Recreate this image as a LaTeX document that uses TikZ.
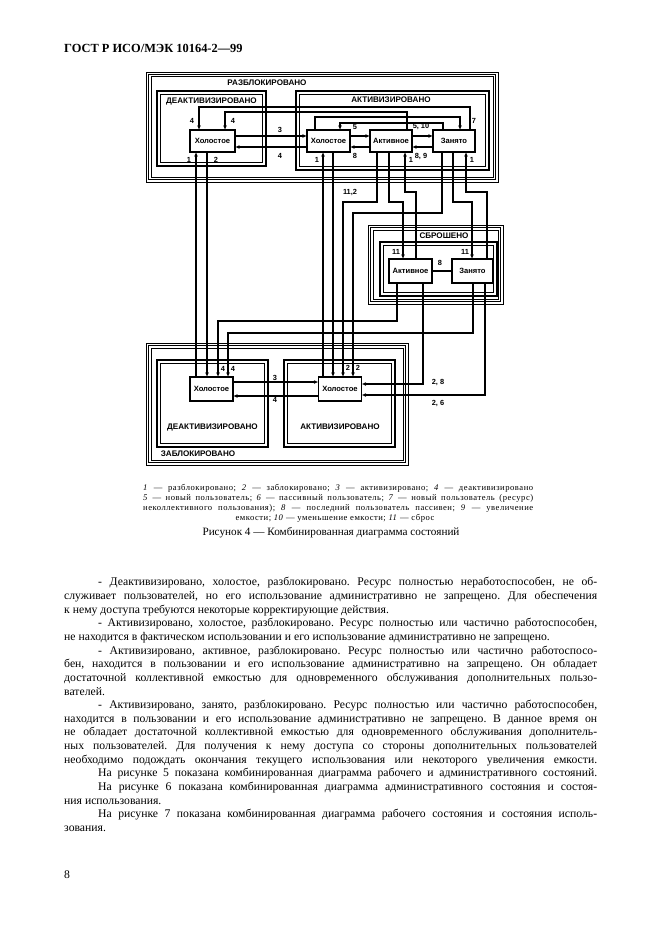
\documentclass[tikz,border=0pt]{standalone}
\usepackage{fontspec}
\setmainfont{Liberation Serif}
\setsansfont{Liberation Sans}
\newfontfamily\legfont[LetterSpace=6]{Liberation Serif}
\usetikzlibrary{arrows.meta}
\frenchspacing
\tikzset{
 st/.style={draw, line width=1.3pt, fill=white, inner sep=0pt, minimum height=22pt, font=\sffamily\bfseries\fontsize{7.6}{8}\selectfont},
 conn/.style={line width=1.7pt},
 arr/.style={conn, -{Stealth[length=4pt,width=3.6pt]}},
 lbl/.style={font=\sffamily\bfseries\fontsize{7.4}{8}\selectfont, inner sep=0pt},
 ttl/.style={font=\sffamily\bfseries\fontsize{8.1}{9}\selectfont, inner sep=0pt},
 bodyl/.style={anchor=base west, inner sep=0pt, font=\fontsize{11.7}{13.6}\selectfont\frenchspacing},
 legl/.style={anchor=base west, inner sep=0pt, font=\legfont\fontsize{8.6}{9.2}\selectfont\frenchspacing},
}
\newcommand{\trframe}[4]{%
  \draw[line width=0.6pt] (#1,#2) rectangle (#3,#4);
  \draw[line width=1.4pt] (#1+2.4,#2+2.4) rectangle (#3-2.4,#4-2.4);
  \draw[line width=0.6pt] (#1+4.8,#2+4.8) rectangle (#3-4.8,#4-4.8);}
\newcommand{\dbframe}[4]{%
  \draw[line width=1.4pt] (#1,#2) rectangle (#3,#4);
  \draw[line width=0.6pt] (#1+3.5,#2+3.5) rectangle (#3-3.5,#4-3.5);}
\begin{document}
\begin{tikzpicture}[x=1pt,y=-1pt]
\fill[white] (0,0) rectangle (661,936);
\useasboundingbox (0,0) rectangle (661,936);

% header
\node[anchor=base west, inner sep=0pt, font=\bfseries\fontsize{12.4}{14}\selectfont] (hdr) at (64,52.5) {ГОСТ Р ИСО/МЭК 10164-2—99};

% frames
\trframe{146}{72}{498}{182}
\node[ttl] (tunl) at (267,83) {РАЗБЛОКИРОВАНО};
\dbframe{157}{91}{266}{166}
\node[ttl] (tdeact1) at (211.5,101) {ДЕАКТИВИЗИРОВАНО};
\dbframe{296}{91}{489}{170}
\node[ttl] (tact1) at (391,100) {АКТИВИЗИРОВАНО};

\trframe{368}{225}{503}{304}
\dbframe{380}{242}{497}{296}
\node[ttl] (treset) at (444,236) {СБРОШЕНО};

\trframe{146}{343}{408}{465}
\node[ttl] (tlock) at (198,454) {ЗАБЛОКИРОВАНО};
\dbframe{157}{360}{268}{447}
\node[ttl] (tdeact2) at (212.5,427) {ДЕАКТИВИЗИРОВАНО};
\dbframe{284}{360}{395}{447}
\node[ttl] (tact2) at (340,427) {АКТИВИЗИРОВАНО};

% state nodes
\node[st, minimum width=45pt] (h1) at (212.5,141) {Холостое};
\node[st, minimum width=43pt] (h2) at (328.5,141) {Холостое};
\node[st, minimum width=42pt] (a1) at (391,141) {Активное};
\node[st, minimum width=42pt] (z1) at (454,141) {Занято};
\node[st, minimum width=43pt, minimum height=24pt] (a2) at (410.5,271) {Активное};
\node[st, minimum width=41pt, minimum height=24pt] (z2) at (472.5,271) {Занято};
\node[st, minimum width=43pt, minimum height=24pt] (h3) at (211.5,389) {Холостое};
\node[st, minimum width=43pt, minimum height=24pt] (h4) at (340,389) {Холостое};

% top horizontal transitions
\draw[arr] (h1.east |- 0,136) -- (h2.west |- 0,136);
\draw[arr] (h2.west |- 0,147) -- (h1.east |- 0,147);
\draw[arr] (h2.east |- 0,136) -- (a1.west |- 0,136);
\draw[arr] (a1.west |- 0,147) -- (h2.east |- 0,147);
\draw[arr] (a1.east |- 0,136) -- (z1.west |- 0,136);
\draw[arr] (z1.west |- 0,147) -- (a1.east |- 0,147);

% top loops
\draw[arr] (470,0 |- z1.north) -- (470,107) -- (199,107) -- (199,0 |- h1.north);
\draw[arr] (407,0 |- a1.north) -- (407,112) -- (225,112) -- (225,0 |- h1.north);
\draw[arr] (315,0 |- h2.north) -- (315,117) -- (460,117) -- (460,0 |- z1.north);
\draw[arr] (443,0 |- z1.north) -- (443,123) -- (340,123) -- (340,0 |- h2.north);

% verticals between upper and lower
\draw[arr] (196,0 |- h3.north) -- (196,0 |- h1.south);
\draw[arr] (207,0 |- h1.south) -- (207,0 |- h3.north);
\draw[arr] (323,0 |- h4.north) -- (323,0 |- h2.south);
\draw[arr] (333,0 |- h2.south) -- (333,0 |- h4.north);
\draw[arr] (377,0 |- a1.south) -- (377,202) -- (343,202) -- (343,0 |- h4.north);
\draw[arr] (442,0 |- z1.south) -- (442,213) -- (353,213) -- (353,0 |- h4.north);
\draw[arr] (389,0 |- a1.south) -- (389,202) -- (403,202) -- (403,0 |- a2.north);
\draw[arr] (416,0 |- a2.north) -- (416,192) -- (405,192) -- (405,0 |- a1.south);
\draw[arr] (453,0 |- z1.south) -- (453,202) -- (472,202) -- (472,0 |- z2.north);
\draw[arr] (487,0 |- z2.north) -- (487,192) -- (466,192) -- (466,0 |- z1.south);

% reset
\draw[conn] (a2.east) -- (z2.west);
\draw[arr] (397,0 |- a2.south) -- (397,321) -- (218,321) -- (218,0 |- h3.north);
\draw[arr] (473,0 |- z2.south) -- (473,333) -- (228,333) -- (228,0 |- h3.north);
\draw[arr] (423,0 |- a2.south) -- (423,384) -- (h4.east |- 0,384);
\draw[arr] (485,0 |- z2.south) -- (485,395) -- (h4.east |- 0,395);

% bottom horizontal
\draw[arr] (h3.east |- 0,382) -- (h4.west |- 0,382);
\draw[arr] (h4.west |- 0,396) -- (h3.east |- 0,396);

% labels
\node[lbl] (l1) at (192,121) {4};
\node[lbl] (l2) at (233,121) {4};
\node[lbl] (l3) at (280,130) {3};
\node[lbl] (l4) at (280,156) {4};
\node[lbl] (l5) at (355,127) {5};
\node[lbl] (l6) at (355,156) {8};
\node[lbl] (l7) at (421,126) {5, 10};
\node[lbl] (l8) at (421,156) {8, 9};
\node[lbl] (l9) at (474,121) {7};
\node[lbl] (l10) at (189,160) {1};
\node[lbl] (l11) at (216,160) {2};
\node[lbl] (l12) at (317,160) {1};
\node[lbl] (l13) at (411,160) {1};
\node[lbl] (l14) at (472,160) {1};
\node[lbl] (l15) at (350,192) {11,2};
\node[lbl] (l16) at (396,252) {11};
\node[lbl] (l17) at (465,252) {11};
\node[lbl] (l18) at (440,263) {8};
\node[lbl] (l19) at (223,369) {4};
\node[lbl] (l20) at (233,369) {4};
\node[lbl] (l21) at (348,368) {2};
\node[lbl] (l22) at (358,368) {2};
\node[lbl] (l23) at (275,378) {3};
\node[lbl] (l24) at (275,400) {4};
\node[lbl] (l25) at (438,382) {2, 8};
\node[lbl] (l26) at (438,403) {2, 6};

% legend
\node[legl] (g1) at (143,490.5) {\makebox[390pt][s]{\textit{1} — разблокировано; \textit{2} — заблокировано; \textit{3} — активизировано; \textit{4} — деактивизировано}};
\node[legl] (g2) at (143,500.5) {\makebox[390pt][s]{\textit{5} — новый пользователь; \textit{6} — пассивный пользователь; \textit{7} — новый пользователь (ресурс)}};
\node[legl] (g3) at (143,510.5) {\makebox[390pt][s]{неколлективного пользования); \textit{8} — последний пользователь пассивен; \textit{9} — увеличение}};
\node[anchor=base, inner sep=0pt, font=\legfont\fontsize{8.6}{9.2}\selectfont\frenchspacing] (g4) at (335,520.5) {емкости; \textit{10} — уменьшение емкости; \textit{11} — сброс};

\node[anchor=base, inner sep=0pt, font=\fontsize{11.2}{13}\selectfont] (cap) at (331,535) {Рисунок 4 — Комбинированная диаграмма состояний};

% body text
\node[bodyl] (t1) at (98,585.8) {\makebox[499pt][s]{- Деактивизировано, холостое, разблокировано. Ресурс полностью неработоспособен, не об-}};
\node[bodyl] (t2) at (64,599.45) {\makebox[533pt][s]{служивает пользователей, но его использование административно не запрещено. Для обеспечения}};
\node[bodyl] (t3) at (64,613.1) {к нему доступа требуются некоторые корректирующие действия.};
\node[bodyl] (t4) at (98,626.75) {\makebox[499pt][s]{- Активизировано, холостое, разблокировано. Ресурс полностью или частично работоспособен,}};
\node[bodyl] (t5) at (64,640.4) {не находится в фактическом использовании и его использование административно не запрещено.};
\node[bodyl] (t6) at (98,654.05) {\makebox[499pt][s]{- Активизировано, активное, разблокировано. Ресурс полностью или частично работоспосо-}};
\node[bodyl] (t7) at (64,667.7) {\makebox[533pt][s]{бен, находится в пользовании и его использование административно на запрещено. Он обладает}};
\node[bodyl] (t8) at (64,681.35) {\makebox[533pt][s]{достаточной коллективной емкостью для одновременного обслуживания дополнительных пользо-}};
\node[bodyl] (t9) at (64,695.0) {вателей.};
\node[bodyl] (t10) at (98,708.65) {\makebox[499pt][s]{- Активизировано, занято, разблокировано. Ресурс полностью или частично работоспособен,}};
\node[bodyl] (t11) at (64,722.3) {\makebox[533pt][s]{находится в пользовании и его использование административно не запрещено. В данное время он}};
\node[bodyl] (t12) at (64,735.95) {\makebox[533pt][s]{не обладает достаточной коллективной емкостью для одновременного обслуживания дополнитель-}};
\node[bodyl] (t13) at (64,749.6) {\makebox[533pt][s]{ных пользователей. Для получения к нему доступа со стороны дополнительных пользователей}};
\node[bodyl] (t14) at (64,763.25) {\makebox[533pt][s]{необходимо подождать окончания текущего использования или некоторого увеличения емкости.}};
\node[bodyl] (t15) at (98,776.9) {\makebox[499pt][s]{На рисунке 5 показана комбинированная диаграмма рабочего и административного состояний.}};
\node[bodyl] (t16) at (98,790.55) {\makebox[499pt][s]{На рисунке 6 показана комбинированная диаграмма административного состояния и состоя-}};
\node[bodyl] (t17) at (64,804.2) {ния использования.};
\node[bodyl] (t18) at (98,817.85) {\makebox[499pt][s]{На рисунке 7 показана комбинированная диаграмма рабочего состояния и состояния исполь-}};
\node[bodyl] (t19) at (64,831.5) {зования.};

\node[anchor=base west, inner sep=0pt, font=\fontsize{11.7}{13.6}\selectfont] (pg) at (64,878) {8};
\end{tikzpicture}
\end{document}
